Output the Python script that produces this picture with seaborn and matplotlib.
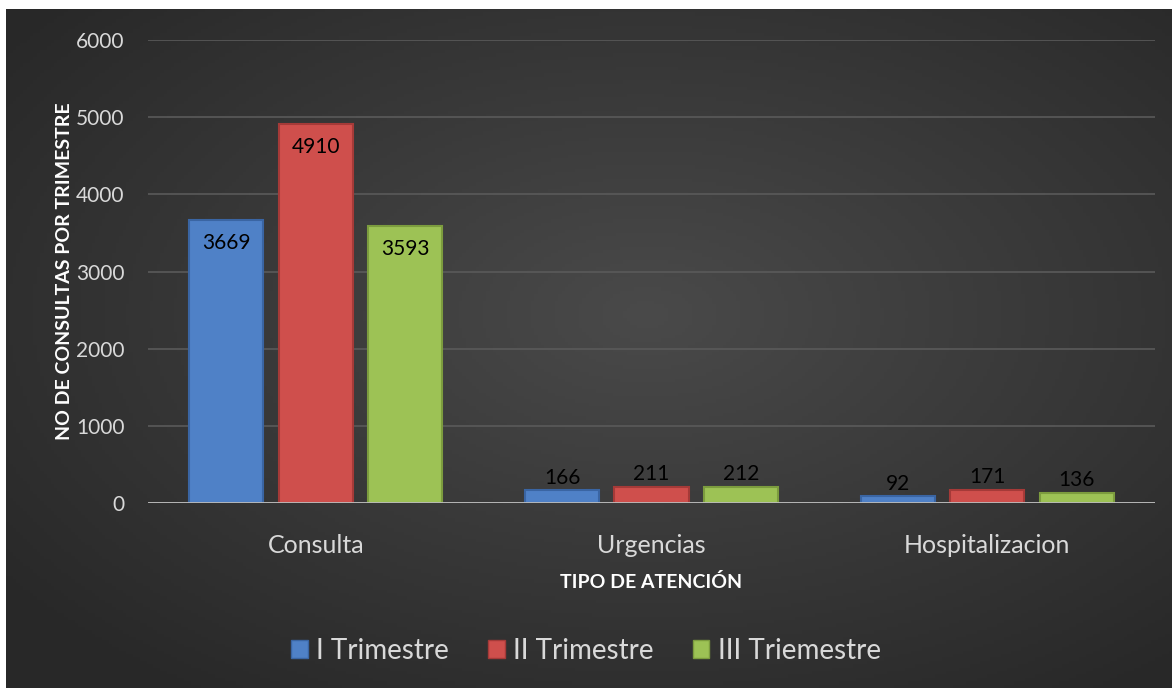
import numpy as np
import pandas as pd
import matplotlib.pyplot as plt
import seaborn as sns
from matplotlib.patches import Rectangle

# Data
categorias = ["Consulta", "Urgencias", "Hospitalizacion"]
trimestres = ["I Trimestre", "II Trimestre", "III Triemestre"]
i_trimestre = [3669, 166, 92]
ii_trimestre = [4910, 211, 171]
iii_trimestre = [3593, 212, 136]
y_ticks = [0, 1000, 2000, 3000, 4000, 5000, 6000]

colores = ["#4f81c7", "#cf4f4c", "#9dc255"]
bordes = ["#3a65a3", "#a53a38", "#7c9c3e"]
texto_claro = "#d9d9d9"


def main():
    sns.set_theme(style="dark")
    plt.rcParams["font.family"] = ["Lato", "DejaVu Sans"]

    df = pd.DataFrame({
        "Tipo": categorias * 3,
        "Trimestre": [trimestres[0]] * 3 + [trimestres[1]] * 3 + [trimestres[2]] * 3,
        "Valor": i_trimestre + ii_trimestre + iii_trimestre,
    })

    fig = plt.figure(figsize=(11.72, 6.88), dpi=100)
    fig.patch.set_facecolor("white")

    # dark background with a soft radial gradient
    bg = fig.add_axes([6 / 1172, 0, 1 - 6 / 1172, 1 - 9 / 688])
    yy, xx = np.mgrid[0:1:200j, 0:1:340j]
    r = np.sqrt(((xx - 0.55) / 0.9) ** 2 + ((yy - 0.45) / 0.9) ** 2)
    shade = 0.29 - 0.13 * np.clip(r / 0.75, 0, 1)
    bg.imshow(np.dstack([shade] * 3), aspect="auto", extent=[0, 1, 0, 1])
    bg.set_axis_off()

    ax = fig.add_axes([148 / 1172, 1 - 503 / 688, (1155 - 148) / 1172, (503 - 40) / 688])
    ax.patch.set_alpha(0)

    sns.barplot(data=df, x="Tipo", y="Valor", hue="Trimestre", order=categorias,
                hue_order=trimestres, palette=colores, width=0.8, gap=0.17,
                saturation=1, edgecolor="none", legend=False, ax=ax, zorder=3)

    for cont, borde in zip(ax.containers, bordes):
        for bar in cont:
            bar.set_edgecolor(borde)
            bar.set_linewidth(1.5)

    ax.set_ylim(0, 6000)
    ax.set_yticks(y_ticks)
    ax.set_xlim(-0.5, 2.5)
    ax.grid(axis="y", color="#5a5a5a", linewidth=1.2, zorder=0)
    ax.grid(axis="x", visible=False)
    ax.axhline(0, color="#bfbfbf", linewidth=2, zorder=4)
    for s in ax.spines.values():
        s.set_visible(False)

    ax.tick_params(axis="y", colors=texto_claro, labelsize=15, length=0, pad=17)
    ax.tick_params(axis="x", colors=texto_claro, labelsize=18, length=0, pad=22)

    ax.set_ylabel("NO DE CONSULTAS POR TRIMESTRE", color="white", fontsize=14,
                  fontweight="bold", labelpad=2)
    ax.set_xlabel("TIPO DE ATENCIÓN", color="white", fontsize=14,
                  fontweight="bold", labelpad=12)

    # value labels
    for cont in ax.containers:
        for bar in cont:
            h = bar.get_height()
            x = bar.get_x() + bar.get_width() / 2
            if h > 1000:
                ax.text(x, h - 170, f"{h:.0f}", ha="center", va="top",
                        fontsize=15, color="black", zorder=5)
            else:
                ax.text(x, h + 30, f"{h:.0f}", ha="center", va="bottom",
                        fontsize=15, color="black", zorder=5)

    handles = [Rectangle((0, 0), 1, 1, facecolor=c, edgecolor=b, linewidth=1)
               for c, b in zip(colores, bordes)]
    fig.legend(handles, trimestres, loc="center", bbox_to_anchor=(0.5, 1 - 651 / 688),
               ncol=3, frameon=False, fontsize=20, handlelength=0.6, handleheight=0.6,
               handletextpad=0.3, columnspacing=1.4, labelcolor=texto_claro)

    fig.savefig("out.png", dpi=100)
    plt.close(fig)


if __name__ == "__main__":
    main()
